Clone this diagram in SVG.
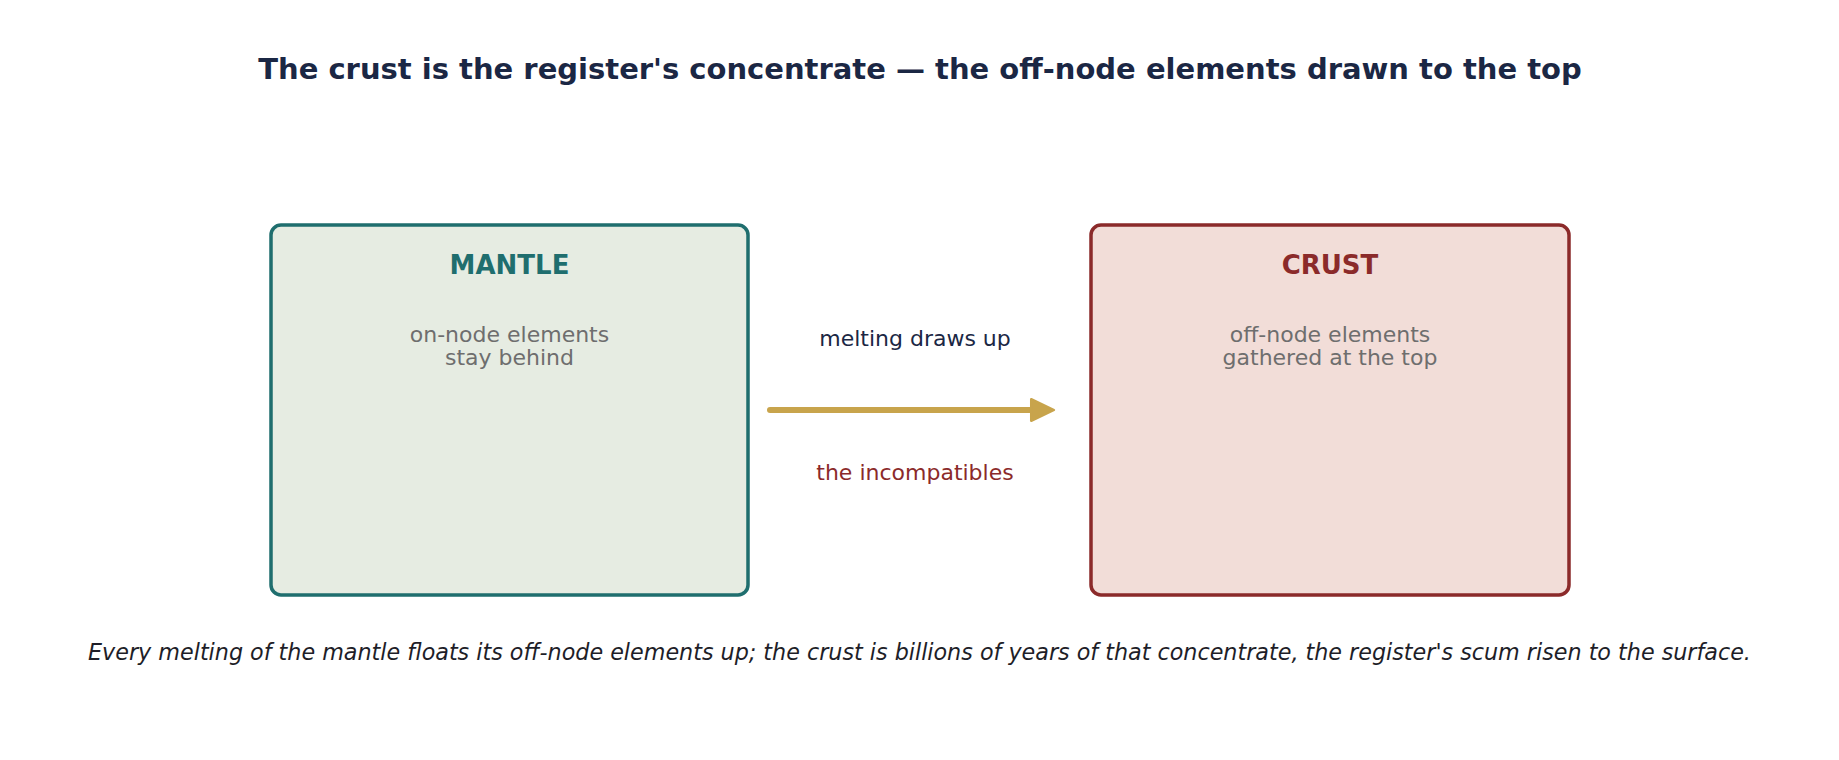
<svg xmlns="http://www.w3.org/2000/svg" width="1839" height="760" viewBox="0 0 1839 760">
<style>
text{font-family:"DejaVu Sans",sans-serif;text-anchor:middle}
.title{font-size:29px;font-weight:bold;fill:#1b2744}
.head{font-size:26px;font-weight:bold}
.sub{font-size:22px;fill:#6e6e6e}
.lbl{font-size:22px}
.foot{font-size:22.25px;font-style:italic;fill:#1e1e28}
.box{stroke-width:3.5}
</style>
<defs>
<marker id="ah" markerWidth="6" markerHeight="6" refX="1.47" refY="2" orient="auto" markerUnits="strokeWidth" overflow="visible">
<path d="M0,0.2 L3.8,2 L0,3.8 Z" fill="#c8a44c" stroke="#c8a44c" stroke-width="0.4" stroke-linejoin="round"/>
</marker>
</defs>
<rect width="1839" height="760" fill="#ffffff"/>
<text class="title" x="920" y="79">The crust is the register's concentrate — the off-node elements drawn to the top</text>
<g id="mantle">
<rect class="box" x="271" y="225" width="477" height="370" rx="10" fill="#e6ece2" stroke="#1f6e6e"/>
<text class="head" x="509.5" y="274" fill="#1f6e6e">MANTLE</text>
<text class="sub" x="509.5" y="342">on-node elements</text>
<text class="sub" x="509.5" y="365">stay behind</text>
</g>
<g id="crust">
<rect class="box" x="1091" y="225" width="478" height="370" rx="10" fill="#f2ddd8" stroke="#8b2a2a"/>
<text class="head" x="1330" y="274" fill="#8b2a2a">CRUST</text>
<text class="sub" x="1330" y="342">off-node elements</text>
<text class="sub" x="1330" y="365">gathered at the top</text>
</g>
<g id="connectors">
<line x1="770" y1="410" x2="1040" y2="410" stroke="#c8a44c" stroke-width="6" stroke-linecap="round" marker-end="url(#ah)"/>
<text class="lbl" x="915" y="346" fill="#1b2744">melting draws up</text>
<text class="lbl" x="915" y="480" fill="#8b2a2a">the incompatibles</text>
</g>
<text class="foot" x="919.5" y="660">Every melting of the mantle floats its off-node elements up; the crust is billions of years of that concentrate, the register's scum risen to the surface.</text>
</svg>
